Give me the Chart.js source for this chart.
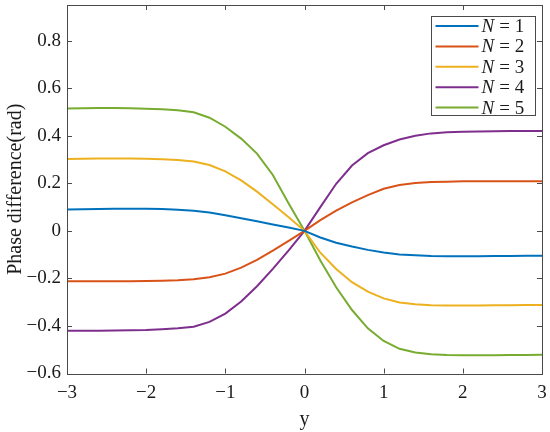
<!DOCTYPE html>
<html>
<head>
<meta charset="utf-8">
<script src="https://cdn.jsdelivr.net/npm/chart.js@4.4.0/dist/chart.umd.min.js"></script>
<style>
  html, body { margin: 0; padding: 0; background: #fff; }
  #grafico { display: block; }
</style>
</head>
<body>
<canvas id="grafico" width="550" height="432"></canvas>
<script>
// --- dados ---
const valoresY = [-3, -2.8, -2.6, -2.4, -2.2, -2, -1.8, -1.6, -1.4, -1.2, -1, -0.8, -0.6, -0.4, -0.2, 0,
                  0.2, 0.4, 0.6, 0.8, 1, 1.2, 1.4, 1.6, 1.8, 2, 2.2, 2.4, 2.6, 2.8, 3];

const serieN1 = [0.090, 0.091, 0.092, 0.093, 0.093, 0.093, 0.092, 0.089, 0.085, 0.077, 0.066, 0.053, 0.040, 0.027, 0.014, 0,
                 -0.028, -0.050, -0.066, -0.080, -0.091, -0.099, -0.103, -0.106, -0.107, -0.107, -0.107, -0.106, -0.106, -0.105, -0.105];
const serieN2 = [-0.212, -0.212, -0.212, -0.212, -0.212, -0.211, -0.210, -0.208, -0.204, -0.195, -0.180, -0.155, -0.122, -0.083, -0.042, 0,
                 0.045, 0.085, 0.120, 0.150, 0.177, 0.193, 0.201, 0.205, 0.207, 0.209, 0.209, 0.209, 0.209, 0.209, 0.209];
const serieN3 = [0.302, 0.303, 0.304, 0.304, 0.304, 0.303, 0.301, 0.298, 0.292, 0.277, 0.250, 0.212, 0.165, 0.112, 0.057, 0,
                 -0.092, -0.160, -0.216, -0.256, -0.284, -0.301, -0.309, -0.313, -0.314, -0.314, -0.314, -0.313, -0.313, -0.312, -0.312];
const serieN4 = [-0.420, -0.420, -0.420, -0.419, -0.418, -0.417, -0.414, -0.410, -0.403, -0.383, -0.348, -0.297, -0.233, -0.160, -0.082, 0,
                 0.100, 0.198, 0.275, 0.327, 0.360, 0.384, 0.400, 0.410, 0.415, 0.417, 0.418, 0.419, 0.420, 0.420, 0.420];
const serieN5 = [0.515, 0.516, 0.517, 0.517, 0.516, 0.514, 0.511, 0.507, 0.499, 0.476, 0.438, 0.388, 0.325, 0.235, 0.115, 0,
                 -0.125, -0.237, -0.333, -0.410, -0.463, -0.496, -0.512, -0.519, -0.522, -0.523, -0.523, -0.523, -0.522, -0.522, -0.521];

const rotulosN = ['1', '2', '3', '4', '5'];
const ticksX = [-3, -2, -1, 0, 1, 2, 3];
const ticksY = [-0.6, -0.4, -0.2, 0, 0.2, 0.4, 0.6, 0.8];

const cores = ['#0072BD', '#D95319', '#EDB120', '#7E2F8E', '#77AC30'];
const corEixo = '#4a4a4a';
const fonteSerif = '"Liberation Serif", "DejaVu Serif", serif';

// formata com sinal de menos tipográfico
function formatar(v) {
  const s = String(Math.round(v * 10) / 10);
  return s.replace('-', '\u2212');
}

const series = [serieN1, serieN2, serieN3, serieN4, serieN5];
const datasets = series.map((serie, i) => ({
  label: 'N = ' + rotulosN[i],
  data: valoresY.map((x, j) => ({ x: x, y: serie[j] })),
  borderColor: cores[i],
  backgroundColor: cores[i],
  borderWidth: 2,
  pointRadius: 0,
  tension: 0,
  fill: false
}));

// caixa dos eixos com ticks para dentro (estilo MATLAB)
const caixaEixos = {
  id: 'caixaEixos',
  afterDraw(chart) {
    const ctx = chart.ctx;
    const a = chart.chartArea;
    const sx = chart.scales.x, sy = chart.scales.y;
    const tam = 5;
    ctx.save();
    ctx.strokeStyle = corEixo;
    ctx.lineWidth = 1;
    ctx.strokeRect(Math.round(a.left) + 0.5, Math.round(a.top) + 0.5,
                   Math.round(a.right - a.left), Math.round(a.bottom - a.top));
    ctx.beginPath();
    ticksX.forEach(v => {
      const px = Math.round(sx.getPixelForValue(v)) + 0.5;
      ctx.moveTo(px, a.bottom); ctx.lineTo(px, a.bottom - tam);
      ctx.moveTo(px, a.top); ctx.lineTo(px, a.top + tam);
    });
    ticksY.forEach(v => {
      const py = Math.round(sy.getPixelForValue(v)) + 0.5;
      ctx.moveTo(a.left, py); ctx.lineTo(a.left + tam, py);
      ctx.moveTo(a.right, py); ctx.lineTo(a.right - tam, py);
    });
    ctx.stroke();
    ctx.restore();
  }
};

// legenda dentro da área, com N em itálico
const legendaInterna = {
  id: 'legendaInterna',
  afterDraw(chart) {
    const ctx = chart.ctx;
    const caixa = { x: 431.5, y: 16.5, w: 104, h: 99 };
    ctx.save();
    ctx.fillStyle = '#fff';
    ctx.fillRect(caixa.x, caixa.y, caixa.w, caixa.h);
    ctx.strokeStyle = corEixo;
    ctx.lineWidth = 1;
    ctx.strokeRect(caixa.x, caixa.y, caixa.w, caixa.h);
    ctx.textBaseline = 'middle';
    chart.data.datasets.forEach((ds, i) => {
      const y = caixa.y + 9.5 + i * 20.4;
      ctx.strokeStyle = ds.borderColor;
      ctx.lineWidth = 2;
      ctx.beginPath();
      ctx.moveTo(caixa.x + 4, y);
      ctx.lineTo(caixa.x + 47, y);
      ctx.stroke();
      ctx.fillStyle = '#1a1a1a';
      ctx.font = 'italic 19px ' + fonteSerif;
      let tx = caixa.x + 50;
      ctx.fillText('N', tx, y + 1);
      tx += ctx.measureText('N').width + 5;
      ctx.font = '19px ' + fonteSerif;
      ctx.fillText('= ' + rotulosN[i], tx, y + 1);
    });
    ctx.restore();
  }
};

new Chart(document.getElementById('grafico'), {
  type: 'line',
  data: { datasets: datasets },
  plugins: [caixaEixos, legendaInterna],
  options: {
    responsive: false,
    animation: false,
    devicePixelRatio: 1,
    layout: { padding: { top: 5, right: 8, left: 0, bottom: 0 } },
    plugins: {
      legend: { display: false },
      tooltip: { enabled: false }
    },
    scales: {
      x: {
        type: 'linear',
        min: -3,
        max: 3,
        afterBuildTicks: (s) => { s.ticks = ticksX.map(v => ({ value: v })); },
        afterFit: (s) => { s.height = 58.5; s.paddingLeft = 0; s.paddingRight = 0; },
        grid: { display: false, drawTicks: false },
        border: { display: false },
        ticks: {
          padding: 8,
          color: '#1a1a1a',
          font: { family: fonteSerif, size: 19 },
          maxRotation: 0,
          callback: (v) => formatar(v)
        },
        title: {
          display: true,
          text: 'y',
          color: '#1a1a1a',
          font: { family: fonteSerif, size: 20 },
          padding: { top: 0, bottom: 0 }
        }
      },
      y: {
        type: 'linear',
        min: -0.6,
        max: 0.95,
        afterBuildTicks: (s) => { s.ticks = ticksY.map(v => ({ value: v })); },
        afterFit: (s) => { s.width = 67; s.paddingTop = 0; s.paddingBottom = 0; },
        grid: { display: false, drawTicks: false },
        border: { display: false },
        ticks: {
          padding: 6,
          color: '#1a1a1a',
          font: { family: fonteSerif, size: 19 },
          callback: (v) => formatar(v)
        },
        title: {
          display: true,
          text: 'Phase difference(rad)',
          color: '#1a1a1a',
          font: { family: fonteSerif, size: 20 },
          padding: { top: 4, bottom: 0 }
        }
      }
    }
  }
});
</script>
</body>
</html>
